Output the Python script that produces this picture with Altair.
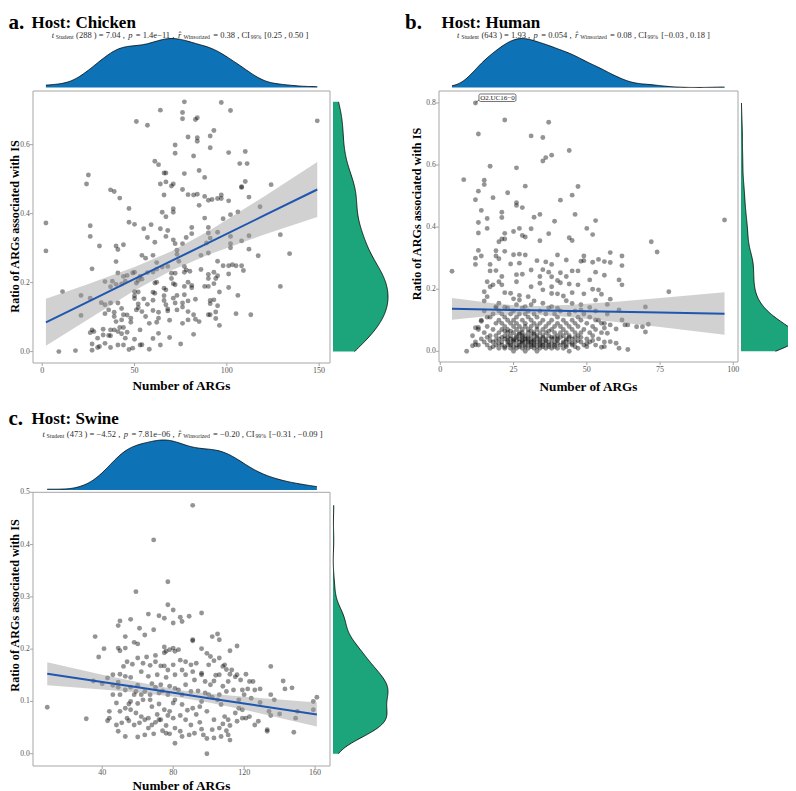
import altair as alt
import pandas as pd
import numpy as np

# ---------------- data ----------------
a_args = [77, 97, 64, 102, 76, 76, 84, 83, 51, 57,
          149, 2, 2, 93, 91, 84, 79, 84, 72, 91,
          72, 101, 110, 82, 61, 63, 107, 111, 85, 66,
          67, 77, 25, 88, 24, 64, 67, 71, 70, 110,
          124, 108, 108, 37, 39, 76, 79, 82, 84, 66,
          88, 90, 92, 95, 97, 97, 101, 42, 112, 85,
          118, 47, 71, 67, 65, 71, 102, 106, 98, 88,
          47, 50, 26, 55, 64, 81, 90, 90, 95, 26,
          57, 67, 68, 78, 81, 91, 102, 112, 129, 134,
          117, 31, 40, 44, 41, 61, 71, 72, 76, 86,
          90, 89, 102, 102, 108, 112, 54, 56, 60, 73,
          73, 40, 27, 41, 44, 46, 49, 50, 53, 57,
          60, 62, 62, 65, 68, 70, 72, 74, 77, 78,
          77, 80, 86, 90, 90, 93, 95, 98, 101, 101,
          103, 105, 108, 109, 21, 11, 21, 34, 38, 37,
          40, 43, 45, 51, 52, 54, 61, 62, 66, 67,
          71, 72, 77, 79, 81, 81, 88, 90, 93, 94,
          95, 96, 101, 106, 129, 113, 105, 26, 32, 34,
          37, 41, 34, 36, 39, 43, 44, 46, 50, 52,
          50, 50, 52, 55, 57, 60, 61, 60, 66, 66,
          67, 68, 71, 72, 73, 76, 77, 79, 83, 82,
          79, 76, 73, 68, 63, 60, 56, 54, 51, 52,
          48, 48, 91, 91, 93, 95, 94, 90, 91, 94,
          96, 83, 85, 79, 76, 69, 63, 62, 58, 53,
          39, 40, 43, 44, 42, 41, 37, 33, 27, 28,
          30, 33, 36, 37, 39, 46, 45, 43, 50, 60,
          63, 69, 82, 27, 27, 30, 31, 34, 37, 41,
          44, 47, 49, 53, 54, 58, 64, 75, 9, 18,
          26, 70, 59]
a_ratio = [.724, .722, .700, .699, .693, .675, .678, .673, .667, .656,
           .669, .373, .292, .641, .625, .620, .622, .610, .599, .591,
           .575, .577, .580, .567, .552, .542, .545, .545, .525, .518,
           .518, .516, .512, .505, .486, .486, .492, .486, .480, .493,
           .484, .478, .476, .469, .464, .470, .455, .454, .456, .454,
           .450, .439, .441, .444, .444, .454, .437, .445, .448, .424,
           .420, .415, .414, .391, .404, .404, .397, .405, .385, .387,
           .375, .369, .365, .356, .356, .360, .360, .344, .346, .334,
           .331, .334, .351, .331, .342, .329, .334, .336, .339, .284,
           .278, .306, .306, .310, .296, .317, .324, .313, .313, .279,
           .286, .315, .313, .301, .321, .297, .279, .271, .279, .282,
           .294, .261, .240, .228, .218, .221, .228, .230, .218, .229,
           .231, .239, .258, .245, .247, .227, .227, .262, .247, .237,
           .230, .233, .238, .224, .212, .230, .262, .249, .249, .225,
           .252, .249, .249, .235, .163, .174, .105, .203, .204, .188,
           .195, .196, .204, .199, .206, .210, .199, .201, .184, .179,
           .197, .194, .189, .201, .192, .185, .189, .189, .197, .212,
           .220, .173, .186, .163, .189, .107, .110, .155, .142, .136,
           .141, .141, .110, .121, .114, .125, .107, .106, .174, .173,
           .162, .154, .138, .153, .137, .172, .169, .149, .162, .148,
           .136, .124, .155, .141, .163, .141, .165, .147, .152, .107,
           .116, .129, .121, .118, .114, .119, .102, .116, .121, .127,
           .097, .085, .148, .139, .150, .133, .115, .107, .107, .096,
           .076, .094, .087, .092, .082, .091, .097, .085, .082, .063,
           .102, .087, .092, .070, .070, .058, .063, .065, .063, .058,
           .039, .048, .047, .046, .063, .056, .039, .052, .036, .038,
           .053, .041, .050, .022, .004, .012, .015, .024, .012, .019,
           .019, .006, .010, .019, .020, .007, .019, .022, .000, .003,
           .055, .212, .368]

b_args = [12, 22, 37, 13, 31, 35, 44, 38, 36, 35,
          17, 26, 8, 15, 15, 47, 29, 13, 23, 45,
          18, 12, 41, 26, 26, 28, 14, 21, 46, 34,
          32, 21, 16, 53, 97, 39, 13, 50, 16, 27,
          31, 44, 13, 22, 25, 37, 52, 28, 29, 21,
          22, 45, 34, 20, 72, 74, 19, 22, 13, 25,
          27, 29, 58, 62, 19, 14, 12, 20, 40, 33,
          43, 36, 49, 49, 52, 54, 56, 58, 17, 12,
          24, 27, 38, 48, 62, 35, 19, 17, 31, 45,
          47, 53, 56, 4, 26, 28, 21, 37, 41, 43,
          38, 34, 16, 20, 26, 40, 41, 44, 47, 51,
          61, 18, 21, 31, 34, 38, 52, 54, 78, 62,
          17, 15, 16, 22, 24, 27, 30, 35, 38, 40,
          42, 45, 49, 55, 58, 15, 20, 25, 27, 32,
          35, 43, 45, 48, 53, 57, 70, 19, 22, 29,
          38, 40, 48, 51, 61, 13, 12, 14, 16, 11,
          11, 9, 12, 63, 64, 67, 69, 71, 70, 62,
          60, 58, 55, 53, 60, 61, 64, 58, 56, 55,
          57, 56]
b_ratio = [.800, .745, .738, .700, .694, .689, .647, .632, .624, .613,
           .596, .591, .553, .551, .537, .531, .532, .516, .511, .503,
           .495, .488, .487, .479, .470, .463, .454, .448, .441, .441,
           .432, .431, .428, .421, .423, .419, .415, .396, .396, .396,
           .395, .366, .381, .380, .386, .379, .376, .373, .368, .362,
           .362, .357, .356, .353, .353, .320, .324, .322, .325, .311,
           .313, .310, .318, .307, .307, .307, .300, .298, .310, .292,
           .294, .288, .307, .292, .287, .296, .289, .286, .280, .280,
           .281, .284, .280, .290, .276, .263, .260, .259, .262, .259,
           .259, .255, .245, .258, .247, .248, .241, .255, .253, .241,
           .240, .241, .224, .224, .224, .228, .221, .217, .214, .230,
           .230, .214, .214, .208, .219, .208, .200, .198, .192, .214,
           .208, .192, .176, .189, .187, .180, .176, .198, .186, .185,
           .178, .189, .185, .184, .168, .162, .155, .169, .165, .162,
           .155, .163, .154, .150, .165, .151, .143, .144, .142, .144,
           .144, .139, .133, .141, .133, .077, .076, .097, .110, .050,
           .018, .000, .021, .085, .085, .079, .079, .087, .062, .101,
           .072, .085, .090, .101, .026, .010, .006, .031, .015, .013,
           .058, .075]
# dense lower cluster of panel b
b_args_low = [14, 15, 15, 16, 16, 17, 17, 17, 18, 18,
              18, 19, 19, 19, 19, 20, 20, 20, 20, 20,
              21, 21, 21, 21, 21, 22, 22, 22, 22, 22,
              23, 23, 23, 23, 23, 23, 24, 24, 24, 24,
              24, 24, 25, 25, 25, 25, 25, 25, 25, 26,
              26, 26, 26, 26, 26, 26, 27, 27, 27, 27,
              27, 27, 28, 28, 28, 28, 28, 28, 28, 29,
              29, 29, 29, 29, 29, 29, 30, 30, 30, 30,
              30, 30, 30, 31, 31, 31, 31, 31, 31, 32,
              32, 32, 32, 32, 32, 33, 33, 33, 33, 33,
              33, 34, 34, 34, 34, 34, 34, 35, 35, 35,
              35, 35, 36, 36, 36, 36, 36, 37, 37, 37,
              37, 37, 38, 38, 38, 38, 39, 39, 39, 39,
              39, 40, 40, 40, 40, 40, 41, 41, 41, 41,
              42, 42, 42, 42, 42, 43, 43, 43, 43, 44,
              44, 44, 44, 44, 45, 45, 45, 45, 46, 46,
              46, 46, 47, 47, 47, 47, 48, 48, 48, 49,
              49, 49, 50, 50, 51, 51, 51, 52, 52, 53,
              53, 53, 54, 54, 55, 56, 56, 57, 13, 12,
              13, 14, 15,
              19, 20, 21, 22, 22, 23, 23, 24, 24, 25,
              25, 26, 26, 27, 27, 28, 28, 28, 29, 29,
              30, 30, 31, 31, 31, 32, 32, 32, 33, 33,
              34, 34, 35, 35, 36, 36, 37, 37, 38, 38,
              39, 39, 40, 40, 41, 42, 43, 43, 44, 45,
              46, 46, 47, 48, 50, 50, 52, 18, 17, 16]
b_ratio_low = [.04, .03, .06, .02, .08, .05, .01, .11, .03, .07,
               .12, .02, .05, .09, .14, .01, .04, .06, .10, .13,
               .02, .03, .07, .09, .12, .01, .04, .05, .08, .11,
               .02, .03, .06, .07, .10, .14, .01, .02, .04, .05,
               .09, .12, .00, .03, .04, .06, .08, .10, .13, .01,
               .02, .05, .07, .09, .11, .15, .02, .03, .04, .06,
               .08, .12, .01, .03, .05, .06, .07, .10, .14, .00,
               .02, .04, .05, .08, .09, .12, .01, .03, .04, .06,
               .07, .11, .13, .02, .03, .05, .08, .10, .15, .01,
               .02, .04, .06, .09, .12, .00, .03, .05, .07, .08,
               .11, .01, .02, .04, .06, .09, .13, .02, .03, .05,
               .07, .10, .01, .04, .06, .08, .12, .02, .03, .05,
               .09, .14, .01, .04, .07, .10, .02, .03, .06, .08,
               .12, .01, .04, .05, .09, .11, .02, .06, .08, .13,
               .01, .03, .05, .07, .10, .02, .04, .06, .09, .00,
               .03, .05, .08, .12, .02, .04, .07, .10, .03, .06,
               .09, .13, .01, .05, .08, .11, .03, .06, .10, .02,
               .07, .12, .04, .09, .03, .06, .11, .05, .08, .02,
               .07, .13, .04, .10, .06, .03, .09, .12, .07, .03,
               .02, .10, .13,
               .035, .025, .045, .015, .065, .035, .045, .025, .065, .015,
               .035, .035, .045, .015, .055, .025, .035, .045, .015, .035,
               .025, .045, .015, .035, .065, .025, .035, .055, .015, .045,
               .025, .035, .015, .045, .025, .035, .015, .065, .025, .045,
               .015, .045, .025, .035, .045, .025, .015, .035, .045, .025,
               .015, .045, .035, .045, .015, .025, .035, .015, .035, .045]

c_args = [91, 69, 77, 59, 77, 80, 66, 96, 72, 75,
          84, 89, 85, 80, 56, 50, 49, 69, 61, 36,
          53, 64, 105, 102, 106, 91, 91, 41, 38, 49,
          53, 50, 58, 60, 75, 78, 80, 81, 83, 99,
          101, 106, 112, 116, 121, 135, 142, 143, 147, 129,
          125, 126, 122, 123, 119, 118, 116, 115, 35, 40,
          49, 46, 49, 50, 53, 56, 52, 54, 57, 60,
          65, 70, 75, 76, 70, 67, 73, 75, 80, 84,
          87, 90, 93, 96, 100, 103, 108, 109, 110, 113,
          112, 104, 106, 96, 62, 66, 71, 76, 81, 87,
          91, 92, 98, 103, 101, 111, 108, 110, 114, 53,
          56, 59, 60, 64, 68, 70, 73, 74, 78, 81,
          83, 87, 90, 94, 98, 100, 106, 105, 102, 120,
          117, 124, 135, 137, 159, 161, 150, 149, 148, 140,
          134, 135, 133, 133, 128, 126, 123, 121, 119, 119,
          117, 115, 116, 112, 111, 109, 108, 110, 111, 112,
          107, 106, 103, 102, 103, 99, 97, 96, 95, 93,
          91, 95, 99, 88, 85, 81, 80, 78, 77, 80,
          84, 87, 90, 92, 89, 85, 81, 84, 81, 76,
          73, 75, 71, 72, 68, 67, 63, 60, 56, 55,
          53, 56, 50, 48, 46, 44, 44, 43, 49, 53,
          60, 55, 59, 62, 64, 66, 70, 68, 66, 64,
          69, 74, 76, 78, 72, 61, 58, 54, 51, 48,
          9, 31, 99, 159, 129, 50, 58, 67, 85, 96,
          107, 77, 72, 62, 46, 43, 63, 96, 77, 85]
c_ratio = [.475, .409, .329, .310, .285, .275, .267, .269, .264, .259,
           .261, .263, .253, .250, .257, .254, .245, .237, .240, .224,
           .224, .227, .229, .224, .218, .218, .216, .201, .185, .202,
           .202, .197, .213, .210, .204, .199, .202, .196, .199, .192,
           .186, .183, .197, .206, .152, .167, .139, .124, .126, .124,
           .138, .122, .124, .138, .122, .141, .151, .147, .139, .134,
           .137, .131, .127, .152, .148, .146, .167, .176, .171, .183,
           .185, .188, .193, .196, .176, .169, .168, .168, .170, .179,
           .176, .170, .173, .154, .170, .178, .167, .170, .161, .160,
           .152, .150, .151, .151, .157, .148, .151, .146, .151, .151,
           .157, .141, .138, .139, .132, .138, .129, .119, .122, .122,
           .127, .119, .131, .119, .134, .127, .132, .120, .129, .125,
           .122, .132, .119, .120, .116, .113, .113, .103, .108, .113,
           .103, .106, .113, .103, .100, .108, .081, .068, .041, .076,
           .081, .073, .046, .043, .062, .055, .071, .068, .084, .068,
           .087, .078, .062, .054, .065, .071, .057, .044, .036, .026,
           .033, .049, .065, .046, .030, .029, .036, .047, .060, .075,
           .087, .090, .081, .083, .094, .103, .097, .081, .073, .068,
           .073, .065, .055, .039, .036, .033, .020, .043, .049, .054,
           .065, .084, .075, .095, .090, .103, .103, .096, .100, .095,
           .087, .084, .081, .097, .113, .081, .068, .063, .043, .033,
           .032, .063, .078, .071, .065, .068, .060, .055, .049, .036,
           .038, .044, .039, .038, .065, .059, .055, .068, .059, .055,
           .089, .067, .000, .084, .098, .113, .113, .113, .113, .100,
           .094, .113, .116, .113, .151, .145, .173, .201, .160, .160]

# linear fit and its confidence band
a_fit_x = [2, 25, 50, 70, 90, 120, 149]
a_fit = [0.085, 0.145, 0.211, 0.263, 0.315, 0.394, 0.470]
a_lo = [0.017, 0.094, 0.177, 0.235, 0.281, 0.339, 0.390]
a_hi = [0.153, 0.196, 0.245, 0.291, 0.349, 0.449, 0.550]

b_fit_x = [4, 20, 31, 45, 60, 75, 97]
b_fit = [0.137, 0.134, 0.132, 0.130, 0.127, 0.125, 0.121]
b_lo = [0.102, 0.117, 0.119, 0.110, 0.094, 0.078, 0.053]
b_hi = [0.172, 0.152, 0.145, 0.150, 0.160, 0.172, 0.190]

c_fit_x = [9, 40, 60, 83, 100, 120, 161]
c_fit = [0.153, 0.137, 0.127, 0.115, 0.106, 0.096, 0.075]
c_lo = [0.131, 0.123, 0.117, 0.108, 0.098, 0.084, 0.052]
c_hi = [0.175, 0.151, 0.137, 0.122, 0.115, 0.109, 0.098]

a_xticks = [0, 50, 100, 150]
a_yticks = [0.0, 0.2, 0.4, 0.6]
b_xticks = [0, 25, 50, 75, 100]
b_yticks = [0.0, 0.2, 0.4, 0.6, 0.8]
c_xticks = [40, 80, 120, 160]
c_yticks = [0.0, 0.1, 0.2, 0.3, 0.4, 0.5]

a_stats = [("t", "it"), ("Student", "sub"), ("(288 ) = 7.04 ,", "main"), ("p", "it"),
           ("= 1.4e\u221211 ,", "main"), ("r\u0302", "it"), ("Winsorized", "sub"),
           ("= 0.38 , CI", "main"), ("99%", "sub"), ("[0.25 , 0.50 ]", "main")]
b_stats = [("t", "it"), ("Student", "sub"), ("(643 ) = 1.93 ,", "main"), ("p", "it"),
           ("= 0.054 ,", "main"), ("r\u0302", "it"), ("Winsorized", "sub"),
           ("= 0.08 , CI", "main"), ("99%", "sub"), ("[\u22120.03 , 0.18 ]", "main")]
c_stats = [("t", "it"), ("Student", "sub"), ("(473 ) = \u22124.52 ,", "main"), ("p", "it"),
           ("= 7.81e\u221206 ,", "main"), ("r\u0302", "it"), ("Winsorized", "sub"),
           ("= \u22120.20 , CI", "main"), ("99%", "sub"), ("[\u22120.31 , \u22120.09 ]", "main")]
# gap (in em of the main size) placed before each segment
stat_gaps = [0, 0.2, 0.3, 0.4, 0.4, 0.4, 0.25, 0.35, 0.1, 0.35]

labelled_point = {"x": [12], "y": [0.80], "t": ["O2.UC16\u22120"]}

# ---------------- styling / layout ----------------
FONT = "Liberation Serif"
BLUE = "#0d72b6"
GREEN = "#1ca57b"
LINE = "#1f56b0"
FRAME = "#a6a6a6"
TICKTXT = "#555555"
OFF = 8
W, H = 780, 783


def P(v):
    return v - OFF


WID = {' ': 250, '(': 333, ')': 333, '=': 564, '.': 250, ',': 250, 'e': 444,
       '\u2212': 564, '[': 333, ']': 333, '%': 833, 'C': 667, 'I': 333, 'S': 556,
       't': 278, 'u': 500, 'd': 500, 'n': 500, 'W': 944, 'i': 278, 's': 389,
       'o': 500, 'r': 333, 'z': 444, 'p': 500, '\u0302': 0}
ITW = {'t': 278, 'p': 500, 'r': 389, '\u0302': 0}
MAIN = 8.5
SIZES = {"main": MAIN, "it": MAIN, "sub": 5.8}


def seg_w(s, kind):
    tab = ITW if kind == "it" else {}
    return sum(tab.get(ch, WID.get(ch, 500)) for ch in s) / 1000 * SIZES[kind]


def nrd0(v):
    v = np.asarray(v, float)
    sd = v.std(ddof=1)
    q75, q25 = np.percentile(v, [75, 25])
    lo = min(sd, (q75 - q25) / 1.34)
    return 0.9 * lo * len(v) ** -0.2


CS = -2  # small upward shift of panel c so its bottom title fits the page
panels = [
    dict(xv=a_args, yv=a_ratio, fx=a_fit_x, fit=a_fit, lo=a_lo, hi=a_hi,
         xt=a_xticks, yt=a_yticks, stats=a_stats,
         x0=33, x1=330, y0=91, y1=363, xdom=[-5.0, 155.9], ydom=[-0.033, 0.7555],
         tb=87.5, tt=38.5, r0=333, r1=388, xlab=7.5,
         letter="a.", host="Host: Chicken", lx=8.5, hx=31.5, ty=23,
         sc=180, sy=34.6, xtx=181.5, xty=386, ytx=9.4, yty=226.5),
    dict(xv=b_args + b_args_low, yv=b_ratio + b_ratio_low, fx=b_fit_x, fit=b_fit, lo=b_lo, hi=b_hi,
         xt=b_xticks, yt=b_yticks, stats=b_stats,
         x0=439, x1=738, y0=91, y1=362, xdom=[-0.44, 101.6], ydom=[-0.0345, 0.8386],
         tb=87.5, tt=38.5, r0=741, r1=797, xlab=7.5,
         letter="b.", host="Host: Human", lx=405, hx=441.5, ty=23,
         sc=583.5, sy=34.6, xtx=588.5, xty=387, ytx=410.5, yty=214),
    dict(xv=c_args, yv=c_ratio, fx=c_fit_x, fit=c_fit, lo=c_lo, hi=c_hi,
         xt=c_xticks, yt=c_yticks, stats=c_stats,
         x0=33, x1=330, y0=494.3 + CS, y1=768 + CS, xdom=[0.97, 168.4], ydom=[-0.0235, 0.5],
         tb=492 + CS, tt=442 + CS, r0=333, r1=388, xlab=6.8,
         letter="c.", host="Host: Swine", lx=8.5, hx=31.5, ty=421 + CS,
         sc=182.5, sy=436 + CS, xtx=181.5, xty=785.5, ytx=9.4, yty=607.5 + CS),
]

layers = []
texts = []
one = pd.DataFrame({"k": [0]})

for i, c in enumerate(panels):
    xs = alt.Scale(domain=c["xdom"], range=[P(c["x0"]), P(c["x1"])], nice=False, zero=False)
    ys = alt.Scale(domain=c["ydom"], range=[P(c["y1"]), P(c["y0"])], nice=False, zero=False)
    pts = pd.DataFrame({"x": c["xv"], "y": c["yv"]})
    fit = pd.DataFrame({"x": c["fx"], "f": c["fit"], "lo": c["lo"], "hi": c["hi"]})

    # panel frame
    layers.append(alt.Chart(one).mark_rect(fill="white", stroke=FRAME, strokeWidth=1).encode(
        x=alt.value(P(c["x0"])), x2=alt.value(P(c["x1"])),
        y=alt.value(P(c["y0"])), y2=alt.value(P(c["y1"]))))
    # points
    layers.append(alt.Chart(pts).mark_circle(size=24, color="black", opacity=0.42).encode(
        x=alt.X("x:Q", scale=xs, axis=None), y=alt.Y("y:Q", scale=ys, axis=None)))
    # CI band
    layers.append(alt.Chart(fit).mark_area(color="#999999", opacity=0.45).encode(
        x=alt.X("x:Q", scale=xs, axis=None), y=alt.Y("lo:Q", scale=ys, axis=None), y2="hi:Q"))
    # fit line
    layers.append(alt.Chart(fit).mark_line(color=LINE, strokeWidth=2).encode(
        x=alt.X("x:Q", scale=xs, axis=None), y=alt.Y("f:Q", scale=ys, axis=None)))
    # ticks
    xt = pd.DataFrame({"v": c["xt"]})
    yt = pd.DataFrame({"v": c["yt"]})
    layers.append(alt.Chart(xt).mark_rule(color=FRAME, strokeWidth=1).encode(
        x=alt.X("v:Q", scale=xs, axis=None), y=alt.value(P(c["y1"])), y2=alt.value(P(c["y1"]) + 3)))
    layers.append(alt.Chart(yt).mark_rule(color=FRAME, strokeWidth=1).encode(
        y=alt.Y("v:Q", scale=ys, axis=None), x=alt.value(P(c["x0"]) - 3), x2=alt.value(P(c["x0"]))))
    layers.append(alt.Chart(xt).mark_text(font=FONT, fontSize=8, color=TICKTXT, baseline="middle").encode(
        x=alt.X("v:Q", scale=xs, axis=None), y=alt.value(P(c["y1"]) + c["xlab"]),
        text=alt.Text("v:Q", format="d")))
    layers.append(alt.Chart(yt).mark_text(font=FONT, fontSize=7.6, color=TICKTXT, align="right",
                                          baseline="middle").encode(
        y=alt.Y("v:Q", scale=ys, axis=None), x=alt.value(P(c["x0"]) - 3.2),
        text=alt.Text("v:Q", format=".1f")))

    # top marginal density
    lo_x, hi_x = float(min(c["xv"])), float(max(c["xv"]))
    td = alt.Chart(pts).transform_density("x", as_=["x", "d"], bandwidth=nrd0(c["xv"]),
                                          extent=[lo_x, hi_x], steps=256)
    tys = alt.Scale(zero=True, nice=False, range=[P(c["tb"]), P(c["tt"])])
    layers.append(td.mark_area(color=BLUE).encode(
        x=alt.X("x:Q", scale=xs, axis=None), y=alt.Y("d:Q", scale=tys, axis=None)))
    layers.append(td.mark_line(color="black", strokeWidth=0.8).encode(
        x=alt.X("x:Q", scale=xs, axis=None), y=alt.Y("d:Q", scale=tys, axis=None)))

    # right marginal density
    lo_y, hi_y = float(min(c["yv"])), float(max(c["yv"]))
    rd = alt.Chart(pts).transform_density("y", as_=["y", "d"], bandwidth=nrd0(c["yv"]),
                                          extent=[lo_y, hi_y], steps=256)
    rxs = alt.Scale(zero=True, nice=False, range=[P(c["r0"]), P(c["r1"])])
    layers.append(rd.mark_area(color=GREEN, orient="horizontal").encode(
        y=alt.Y("y:Q", scale=ys, axis=None), x=alt.X("d:Q", scale=rxs, axis=None)))
    layers.append(rd.mark_line(color="black", strokeWidth=0.8).encode(
        y=alt.Y("y:Q", scale=ys, axis=None), x=alt.X("d:Q", scale=rxs, axis=None),
        order=alt.Order("y:Q")))

    # labelled point (panel b)
    if i == 1:
        lab = pd.DataFrame(labelled_point)
        layers.append(alt.Chart(lab).mark_rule(color="#333333", strokeWidth=0.7,
                                               x2Offset=3.5, y2Offset=-3).encode(
            x=alt.X("x:Q", scale=xs, axis=None), x2="x:Q",
            y=alt.Y("y:Q", scale=ys, axis=None), y2="y:Q"))
        layers.append(alt.Chart(lab).mark_rect(fill="white", stroke="#333333", strokeWidth=0.7,
                                               cornerRadius=1.5, xOffset=3.5, x2Offset=40.5,
                                               yOffset=-9, y2Offset=-1.5).encode(
            x=alt.X("x:Q", scale=xs, axis=None), x2="x:Q",
            y=alt.Y("y:Q", scale=ys, axis=None), y2="y:Q"))
        layers.append(alt.Chart(lab).mark_text(font=FONT, fontSize=7, color="#222222",
                                               dx=22, dy=-5.3).encode(
            x=alt.X("x:Q", scale=xs, axis=None), y=alt.Y("y:Q", scale=ys, axis=None), text="t:N"))

    # titles
    texts.append(dict(x=P(c["lx"]), y=P(c["ty"]), t=c["letter"], kind="letter"))
    texts.append(dict(x=P(c["hx"]), y=P(c["ty"]), t=c["host"], kind="host"))
    texts.append(dict(x=P(c["xtx"]), y=P(c["xty"]), t="Number of ARGs", kind="axis"))
    texts.append(dict(x=P(c["ytx"]), y=P(c["yty"]), t="Ratio of ARGs associated with IS", kind="yaxis"))
    total = sum(seg_w(s, k) + g * MAIN for (s, k), g in zip(c["stats"], stat_gaps))
    cx = c["sc"] - total / 2
    for (s, k), g in zip(c["stats"], stat_gaps):
        cx += g * MAIN
        texts.append(dict(x=P(cx), y=P(c["sy"] + (2 if k == "sub" else 0)), t=s, kind=k))
        cx += seg_w(s, k)

tdf = pd.DataFrame(texts)
styles = {
    "letter": dict(fontSize=21, fontWeight="bold", align="left", color="black"),
    "host": dict(fontSize=17, fontWeight="bold", align="left", color="black"),
    "axis": dict(fontSize=13.2, fontWeight="bold", align="center", color="black"),
    "yaxis": dict(fontSize=12.2, fontWeight="bold", align="center", baseline="top", angle=270,
                  color="black"),
    "main": dict(fontSize=MAIN, align="left", color="#2b2b2b"),
    "it": dict(fontSize=MAIN, fontStyle="italic", align="left", color="#2b2b2b"),
    "sub": dict(fontSize=5.8, align="left", color="#2b2b2b"),
}
for kind, st in styles.items():
    sub = tdf[tdf["kind"] == kind]
    layers.append(alt.Chart(sub).mark_text(font=FONT, **st).encode(
        x=alt.X("x:Q", scale=None, axis=None), y=alt.Y("y:Q", scale=None, axis=None), text="t:N"))

chart = alt.layer(*layers).resolve_scale(x="independent", y="independent").properties(
    width=W, height=H, padding=0, background="white",
    autosize=alt.AutoSizeParams(type="none"),
).configure_view(stroke=None)

chart.save("out.html", embed_options={"renderer": "svg", "actions": False})
